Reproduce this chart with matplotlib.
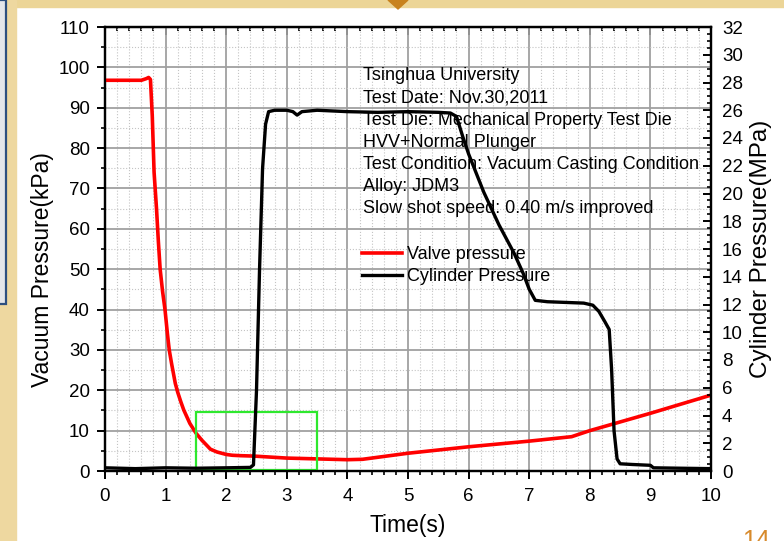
import matplotlib
matplotlib.use('Agg')
import matplotlib.pyplot as plt
from matplotlib.patches import Rectangle, Polygon
from matplotlib.ticker import MultipleLocator

plt.rcParams['font.family'] = ['Liberation Sans', 'DejaVu Sans']

# valve pressure (kPa, left axis)
valve_t = [0, 0.3, 0.6, 0.68, 0.72, 0.75, 0.78, 0.81, 0.85, 0.88, 0.91, 0.95,
           0.99, 1.03, 1.06, 1.1, 1.16, 1.2, 1.25, 1.3, 1.4, 1.5, 1.6, 1.74,
           1.85, 2.0, 2.1, 2.23, 2.45, 3.0, 3.5, 4.0, 4.25, 4.55,
           5.0, 6.0, 7.0, 7.7, 8.0, 9.0, 10.0]
valve_kpa = [96.8, 96.8, 96.8, 97.2, 97.5, 97.0, 88, 74, 65, 57, 50, 44.5,
             40, 34, 30, 26.5, 21.7, 19.5, 17.2, 15.1, 11.8, 9.4, 7.6, 5.4,
             4.7, 4.1, 3.9, 3.8, 3.7, 3.2, 3.0, 2.8, 2.9, 3.5,
             4.4, 6.0, 7.4, 8.5, 10.0, 14.3, 18.8]

# cylinder pressure (MPa, right axis)
cyl_t = [0, 0.5, 1.0, 1.5, 2.0, 2.4, 2.45, 2.5, 2.55, 2.6, 2.65, 2.7,
         2.8, 3.0, 3.1, 3.17, 3.25, 3.5, 4.0, 4.5, 5.0, 5.5, 5.7, 5.8,
         5.9, 6.0, 6.25, 6.5, 6.75, 6.9, 7.0, 7.1, 7.3, 7.6, 7.9, 8.05,
         8.15, 8.25, 8.32, 8.36, 8.4, 8.45, 8.5, 8.7, 9.0, 9.05, 9.5, 10]
cyl_mpa = [0.23, 0.17, 0.23, 0.2, 0.23, 0.26, 0.44, 5.8, 14.5, 21.8, 25.0, 25.9,
           26.0, 26.0, 25.9, 25.65, 25.9, 26.0, 25.9, 25.85, 25.9, 25.85, 25.8, 25.55,
           24.15, 22.85, 20.1, 17.75, 15.7, 14.25, 13.1, 12.3, 12.2, 12.15, 12.1, 11.95,
           11.5, 10.75, 10.2, 7.3, 2.9, 0.87, 0.52, 0.47, 0.41, 0.23, 0.2, 0.17]

# highlighted region (time range, kPa range)
box_t = (1.5, 3.5)
box_kpa = (0.3, 14.7)

info_lines = ['Tsinghua University',
              'Test Date: Nov.30,2011',
              'Test Die: Mechanical Property Test Die',
              'HVV+Normal Plunger',
              'Test Condition: Vacuum Casting Condition',
              'Alloy: JDM3',
              'Slow shot speed: 0.40 m/s improved']

W, H = 784, 541
fig = plt.figure(figsize=(W / 100, H / 100), dpi=100)
fig.patch.set_facecolor('white')

# slide decoration
fig.add_artist(Rectangle((0, 1 - 7 / H), 1, 7 / H, transform=fig.transFigure,
                         color='#ecd597', zorder=0))
fig.add_artist(Rectangle((0, 0), 16 / W, 1, transform=fig.transFigure,
                         color='#eed8a0', zorder=0))
fig.add_artist(Rectangle((-10 / W, 1 - 304 / H), 16 / W, 304 / H, transform=fig.transFigure,
                         facecolor='#e4e6ea', edgecolor='#2d4f7f', lw=1.6, zorder=1))
fig.add_artist(Polygon([(388 / W, 1), (408 / W, 1), (398 / W, 1 - 9 / H)],
                       transform=fig.transFigure, color='#c8821e', zorder=2))
fig.text(742 / W, 1 - 529 / H, '14', color='#d78a2c', fontsize=18, va='top', ha='left')

ax = fig.add_axes([105 / W, 70 / H, 606 / W, 444 / H])
ax2 = ax.twinx()

ax.plot(valve_t, valve_kpa, color='#ff0000', lw=2.6, label='Valve pressure', zorder=3)
ax2.plot(cyl_t, cyl_mpa, color='black', lw=2.4, label='Cylinder Pressure', zorder=3)
ax.add_patch(Rectangle((box_t[0], box_kpa[0]), box_t[1] - box_t[0], box_kpa[1] - box_kpa[0],
                       fill=False, edgecolor='#2ee82e', lw=1.6, zorder=4))

ax.set_xlim(0, 10)
ax.set_ylim(0, 110)
ax2.set_ylim(0, 32)
ax.xaxis.set_major_locator(MultipleLocator(1))
ax.xaxis.set_minor_locator(MultipleLocator(0.2))
ax.yaxis.set_major_locator(MultipleLocator(10))
ax.yaxis.set_minor_locator(MultipleLocator(5))
ax2.yaxis.set_major_locator(MultipleLocator(2))
ax2.yaxis.set_minor_locator(MultipleLocator(0.5))

ax.grid(which='major', color='#a0a0a0', lw=1.3)
ax.grid(which='minor', color='#c4c4c4', ls=':', lw=0.8)
ax.set_axisbelow(True)

for a in (ax, ax2):
    for s in a.spines.values():
        s.set_linewidth(1.6)

ax.tick_params(axis='both', which='major', direction='out', length=6, width=1.4,
               labelsize=13.5, pad=5)
ax.tick_params(axis='both', which='minor', direction='out', length=3, width=1.2)
ax.tick_params(axis='x', pad=6)
ax2.tick_params(axis='y', which='major', direction='in', length=6, width=1.4,
                labelsize=13.5, pad=8)
ax2.tick_params(axis='y', which='minor', direction='in', length=3, width=1.2)

top = ax.secondary_xaxis('top')
top.xaxis.set_major_locator(MultipleLocator(1))
top.xaxis.set_minor_locator(MultipleLocator(0.2))
top.tick_params(which='major', direction='in', length=6, width=1.4, labeltop=False)
top.tick_params(which='minor', direction='in', length=3, width=1.2)

ax.set_xlabel('Time(s)', fontsize=16.5, labelpad=7)
ax.set_ylabel('Vacuum Pressure(kPa)', fontsize=16.5, labelpad=3)
ax.yaxis.label.set_y(0.453)
ax2.set_ylabel('Cylinder Pressure(MPa)', fontsize=17.5, labelpad=5)

ax2.text(4.25, 29.1, '\n'.join(info_lines), fontsize=13, va='top', ha='left',
         linespacing=1.4, zorder=2)

h1, l1 = ax.get_legend_handles_labels()
h2, l2 = ax2.get_legend_handles_labels()
ax2.legend(h1 + h2, l1 + l2, loc='upper left', bbox_to_anchor=(0.424, 0.507),
           frameon=False, fontsize=13, handlelength=2.2, handletextpad=0.3,
           labelspacing=0.3, borderpad=0, borderaxespad=0)

fig.savefig('out.png', dpi=100)
